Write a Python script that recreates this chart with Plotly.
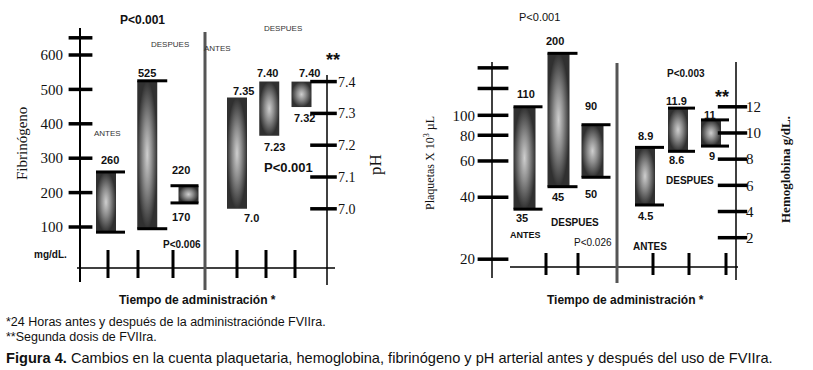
import numpy as np
import plotly.graph_objects as go

W, H = 813, 370

# ---------------- data ----------------
grupos = ["Antes", "Después", "Segunda dosis"]

fib_max = [260, 525, 220]
fib_min = [85, 95, 170]
fib_max_txt = ["260", "525", "220"]
fib_min_txt = ["", "", "170"]

ph_max = [7.35, 7.40, 7.40]
ph_min = [7.00, 7.23, 7.32]
ph_max_txt = ["7.35", "7.40", "7.40"]
ph_min_txt = ["7.0", "7.23", "7.32"]

plq_max = [110, 200, 90]
plq_min = [35, 45, 50]
plq_max_txt = ["110", "200", "90"]
plq_min_txt = ["35", "45", "50"]

hb_max = [8.9, 11.9, 11]
hb_min = [4.5, 8.6, 9]
hb_max_txt = ["8.9", "11.9", "11"]
hb_min_txt = ["4.5", "8.6", "9"]

# labelled ticks and tick marks
fib_tickvals = [100, 200, 300, 400, 500, 600]
fib_ticktext = ["100", "200", "300", "400", "500", "600"]
fib_tickmarks = [100, 200, 300, 400, 500, 600, 650]
ph_tickvals = [7.0, 7.1, 7.2, 7.3, 7.4]
ph_ticktext = ["7.0", "7.1", "7.2", "7.3", "7.4"]
ph_tickmarks = [7.0, 7.1, 7.2, 7.3, 7.4]
plq_tickvals = [20, 40, 60, 80, 100]
plq_ticktext = ["20", "40", "60", "80", "100"]
plq_tickmarks = [20, 40, 60, 80, 100, 135, 170]
hb_tickvals = [2, 4, 6, 8, 10, 12]
hb_ticktext = ["2", "4", "6", "8", "10", "12"]
hb_tickmarks = [2, 4, 6, 8, 10, 12]

# ---------------- style ----------------
SANS = "Liberation Sans, Arial, sans-serif"
SERIF = "Liberation Serif, Times New Roman, serif"
NARROW = "Liberation Sans Narrow, Arial Narrow, Liberation Sans, sans-serif"
GRAD = [[0.0, "#cfcfcf"], [0.45, "#8c8c8c"], [1.0, "#303030"]]


def px(x):
    return x / W


def py(y):
    return 1 - y / H


def yrange(v1, p1, v2, p2):
    b = (v2 - v1) / (p2 - p1)
    a = v1 - b * p1
    return [a + b * H, a]


def xrange_(p0, p2):
    s = (p2 - p0) / 2.0
    a = -p0 / s
    return [a, a + W / s], s


panels = [
    dict(n="", vmax=fib_max, vmin=fib_min, tmax=fib_max_txt, tmin=fib_min_txt, log=False,
         xp=(106, 188.5), ya=((100, 227), (600, 55)), hw=10,
         caps=[(0, 9), (0, 10), (8, 0)],
         off_top=[(4, 12), (0, 8), (-8, 16)], off_bot=[(0, 0), (0, 0), (-8, 14)],
         tv=fib_tickvals, tt=fib_ticktext, tm=fib_tickmarks, side="left", lblpos=63,
         tickx=80.5, ticklen=17, tfont=dict(family=SERIF, size=15, color="#111")),
    dict(n="2", vmax=ph_max, vmin=ph_min, tmax=ph_max_txt, tmin=ph_min_txt, log=False,
         xp=(237, 301.5), ya=((7.0, 208.8), (7.4, 81.6)), hw=10,
         caps=None,
         off_top=[(6, 7), (-2, 9), (8, 9)], off_bot=[(14, 9), (5, 11), (3, 11)],
         tv=ph_tickvals, tt=ph_ticktext, tm=ph_tickmarks, side="right", lblpos=337,
         tickx=323.5, ticklen=19, tfont=dict(family=SERIF, size=14, color="#111")),
    dict(n="3", vmax=plq_max, vmin=plq_min, tmax=plq_max_txt, tmin=plq_min_txt, log=True,
         xp=(524.5, 592.5), ya=((np.log10(20), 259.2), (2.0, 115.3)), hw=11,
         caps=[(0, 7), (0, 8), (0, 7)],
         off_top=[(1, 13), (-4, 12), (-2, 19)], off_bot=[(-3, 9), (-1, 10), (-2, 17)],
         tv=plq_tickvals, tt=plq_ticktext, tm=plq_tickmarks, side="left", lblpos=475,
         tickx=493, ticklen=22, tfont=dict(family=SERIF, size=15, color="#111")),
    dict(n="4", vmax=hb_max, vmin=hb_min, tmax=hb_max_txt, tmin=hb_min_txt, log=False,
         xp=(645, 711), ya=((2, 237.7), (12, 106.8)), hw=10,
         caps=[(0, 9), (0, 7), (0, 8)],
         off_top=[(0, 11), (-2, 7), (-1, 5)], off_bot=[(0, 11), (-2, 9), (1, 10)],
         tv=hb_tickvals, tt=hb_ticktext, tm=hb_tickmarks, side="right", lblpos=745,
         tickx=732.5, ticklen=21, tfont=dict(family=SERIF, size=15, color="#111")),
]

fig = go.Figure()
layout_axes = {}
annotations = []

for p in panels:
    n = p["n"]
    xr, s = xrange_(*p["xp"])
    (v1, p1), (v2, p2) = p["ya"]
    yr = yrange(v1, p1, v2, p2)
    xref = "x" + n
    yref = "y" + n
    layout_axes["xaxis" + n] = dict(domain=[0, 1], range=xr, visible=False, anchor=yref)
    layout_axes["yaxis" + n] = dict(domain=[0, 1], range=yr, type="log" if p["log"] else "linear",
                                    anchor="free", position=px(p["lblpos"]), side=p["side"],
                                    tickvals=p["tv"], ticktext=p["tt"], ticks="",
                                    showline=False, showgrid=False, zeroline=False,
                                    tickfont=p["tfont"])
    hw = p["hw"] / s
    for i, g in enumerate(grupos):
        lo, hi = p["vmin"][i], p["vmax"][i]
        fig.add_trace(go.Scatter(
            x=[i - hw, i + hw, i + hw, i - hw, i - hw], y=[lo, lo, hi, hi, lo],
            xaxis=xref, yaxis=yref, mode="lines", line=dict(width=0, color="#333"),
            fill="toself", fillgradient=dict(type="radial", colorscale=GRAD),
            hoverinfo="skip", showlegend=False, name=g))
        if p["caps"]:
            le, re = p["caps"][i]
            x0 = i - hw - le / s
            x1 = i + hw + re / s
            fig.add_trace(go.Scatter(
                x=[x0, x1, None, x0, x1], y=[hi, hi, None, lo, lo],
                xaxis=xref, yaxis=yref, mode="lines", line=dict(width=3, color="#000"),
                hoverinfo="skip", showlegend=False))
        yv_hi = np.log10(hi) if p["log"] else hi
        yv_lo = np.log10(lo) if p["log"] else lo
        dx, dy = p["off_top"][i]
        if p["tmax"][i]:
            annotations.append(dict(x=i + dx / s, y=yv_hi, xref=xref, yref=yref,
                                    text="<b>%s</b>" % p["tmax"][i], showarrow=False,
                                    yshift=dy, font=dict(family=SANS, size=11, color="#111")))
        dx, dy = p["off_bot"][i]
        if p["tmin"][i]:
            annotations.append(dict(x=i + dx / s, y=yv_lo, xref=xref, yref=yref,
                                    text="<b>%s</b>" % p["tmin"][i], showarrow=False,
                                    yshift=-dy, font=dict(family=SANS, size=11, color="#111")))
    # y-axis tick marks crossing the axis line (placed by the value axis)
    fig.add_trace(go.Scatter(
        x=[p["tickx"]] * len(p["tm"]), y=p["tm"], xaxis="x5", yaxis=yref, mode="markers",
        marker=dict(symbol="line-ew", size=p["ticklen"], line=dict(width=3.5, color="#000")),
        hoverinfo="skip", showlegend=False))

layout_axes["xaxis5"] = dict(domain=[0, 1], range=[0, W], visible=False, anchor="y5")
layout_axes["yaxis5"] = dict(domain=[0, 1], range=[H, 0], visible=False, anchor="x5")
fig.add_trace(go.Scatter(x=[None], y=[None], xaxis="x5", yaxis="y5", showlegend=False))

# ---------------- decorations ----------------
shapes = []


def seg(x0, y0, x1, y1, w=2, c="#000"):
    shapes.append(dict(type="line", xref="paper", yref="paper", x0=px(x0), y0=py(y0),
                       x1=px(x1), y1=py(y1), line=dict(width=w, color=c)))


# left figure axes
seg(80, 28, 80, 282, 2)
seg(77, 268, 335, 268, 1.5)
for xt in [108, 138, 173, 237, 266, 295]:
    seg(xt, 250, xt, 278, 3)
seg(205, 32, 205, 290, 3, "#555")
seg(327, 75, 327, 285, 1.5)
# right figure axes
seg(492, 62, 492, 278, 1.5)
seg(510, 267, 738, 267, 1.5)
for xt in [546, 578, 653, 689, 726]:
    seg(xt, 253, xt, 275, 3)
seg(617, 63, 617, 283, 3, "#555")
seg(736, 62, 736, 280, 1.5)


def txt(x, y, t, size=11, fam=SANS, angle=0, color="#111", xanchor="center"):
    annotations.append(dict(x=px(x), y=py(y), xref="paper", yref="paper", text=t,
                            showarrow=False, textangle=angle, xanchor=xanchor, yanchor="middle",
                            font=dict(family=fam, size=size, color=color)))


# left
txt(142, 20, "<b>P<0.001</b>", 12)
txt(107, 133, "ANTES", 8, color="#333")
txt(170, 44, "DESPUES", 8, color="#333")
txt(218, 48, "ANTES", 8, color="#333")
txt(283, 29, "DESPUES", 8, color="#333")
txt(50, 255, "<b>mg/dL.</b>", 10)
txt(182, 244, "<b>P<0.006</b>", 10)
txt(333, 60, "<b>**</b>", 18)
txt(288, 167, "<b>P<0.001</b>", 13)
txt(22, 144, "Fibrinógeno", 15, fam=SERIF, angle=-90)
txt(375, 165, "pH", 17, fam=SERIF, angle=-90)
txt(197, 300, "<b>Tiempo de administración *</b>", 12)
# right
txt(539, 17, "P<0.001", 11)
txt(525, 235, "<b>ANTES</b>", 9)
txt(575, 222, "<b>DESPUES</b>", 10)
txt(593, 242, "P<0.026", 10)
txt(686, 73, "<b>P<0.003</b>", 10)
txt(722, 97, "<b>**</b>", 18)
txt(690, 180, "<b>DESPUES</b>", 10)
txt(650, 246, "<b>ANTES</b>", 10)
txt(430, 163, "Plaquetas X 10<sup>3</sup> µL", 12, fam=SERIF, angle=-90)
txt(785, 170, "<b>Hemoglobina g/dL.</b>", 13, fam=SERIF, angle=-90)
txt(625, 300, "<b>Tiempo de administración *</b>", 12)
# footnotes
txt(4, 322, "*24 Horas antes y después de la administraciónde FVIIra.", 12.5, fam=NARROW, xanchor="left")
txt(4, 337, "**Segunda dosis de FVIIra.", 12.5, fam=NARROW, xanchor="left")
txt(4, 358, "<b>Figura 4.</b> Cambios en la cuenta plaquetaria, hemoglobina, fibrinógeno y pH arterial antes y después del uso de FVIIra.",
    14.6, fam=NARROW, xanchor="left")

fig.update_layout(width=W, height=H, margin=dict(l=0, r=0, t=0, b=0),
                  paper_bgcolor="white", plot_bgcolor="rgba(0,0,0,0)",
                  showlegend=False, shapes=shapes, annotations=annotations, **layout_axes)

fig.write_html("out.html", config={"displayModeBar": False},
               post_script="document.body.style.margin='0';")
